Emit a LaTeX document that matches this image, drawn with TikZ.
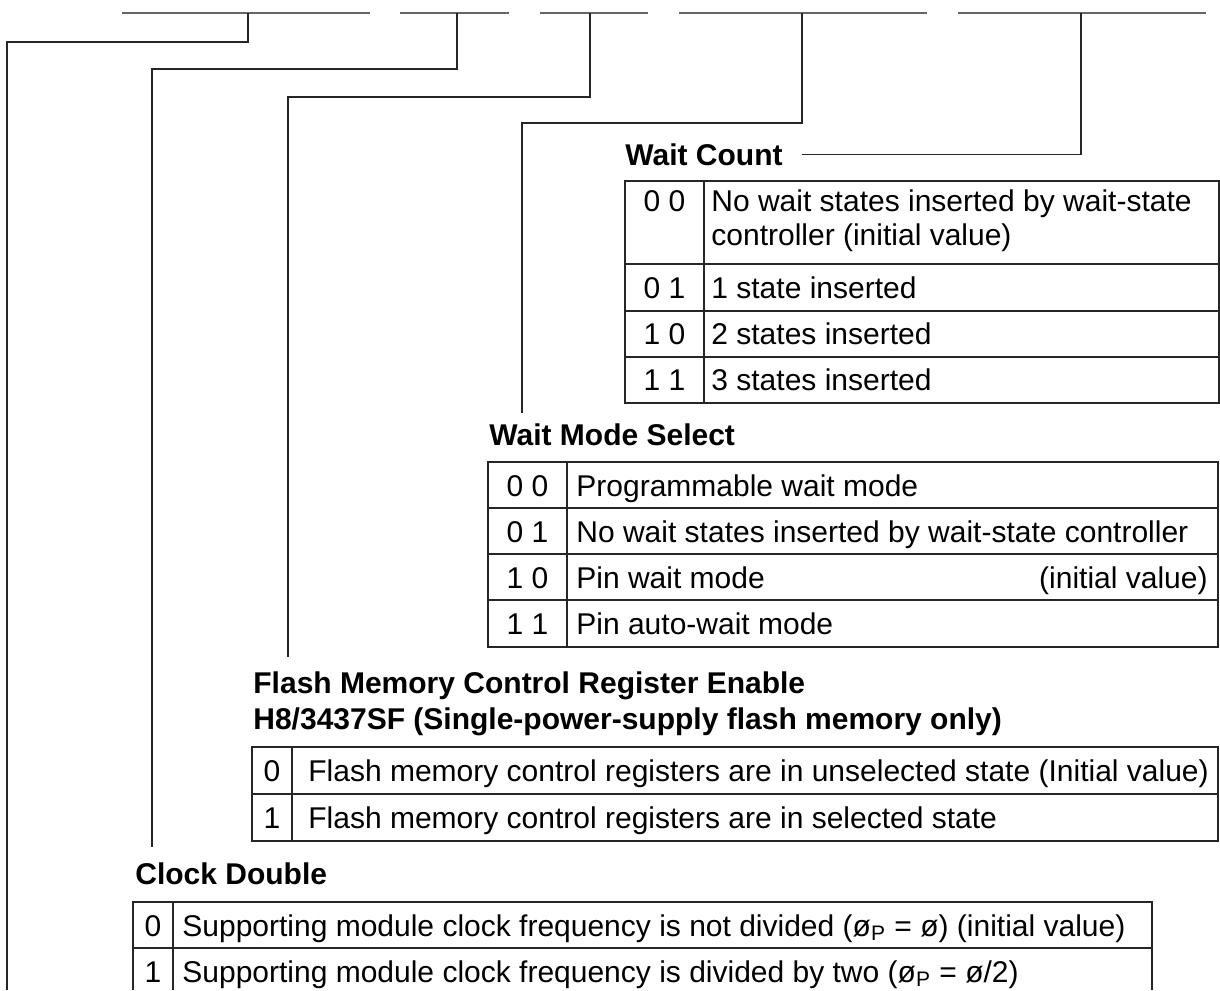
\documentclass[tikz,border=0pt]{standalone}
\usepackage{fontspec}
\setmainfont{Liberation Sans}
\usetikzlibrary{positioning,calc}
\tikzset{
  bitbar/.style={draw=black!60,line width=1pt},
  leader/.style={draw=black!85,line width=0.75pt},
  frame/.style={draw=black!85,line width=0.75pt},
  fldtitle/.style={font=\bfseries\fontsize{15}{17}\selectfont,anchor=base west,inner sep=0pt},
  celltxt/.style={font=\fontsize{15}{17}\selectfont,anchor=base west,inner sep=0pt},
  bitval/.style={font=\fontsize{15}{17}\selectfont,anchor=base,inner sep=0pt},
}

\begin{document}
\begin{tikzpicture}[x=0.5pt,y=-0.5pt]
  \useasboundingbox (0,0) rectangle (1220,990);
  % bit field bars along the top
  \foreach \a/\b/\t/\n in {122/370/248/a,400/509/457/b,540/648/590/c,679/927/802/d,958/1206/1081/e}{
    \draw[bitbar] (\a,13) -- (\b,13);
    \coordinate (tick\n) at (\t,13);
  }

  % Wait Count
  \node[fldtitle] (wcount) at (625,165) {Wait Count};
  \draw[frame] (625,181) rectangle (1219,403);
  \draw[frame] (704,181) -- (704,403);
  \foreach \y in {264,311,357} \draw[frame] (625,\y) -- (1219,\y);
  \node[bitval] (wc0) at (664.5,211.5) {0 0};
  \node[celltxt] (wc0a) at (711,211.5) {No wait states inserted by wait-state};
  \node[celltxt] (wc0b) at (711,245.5) {controller (initial value)};
  \foreach \v/\txt/\y in {1/{0 1}/298,2/{1 0}/344.5,3/{1 1}/390.5}
    \node[bitval] (wc\v) at (664.5,\y) {\txt};
  \node[celltxt] (wc1t) at (711,298) {1 state inserted};
  \node[celltxt] (wc2t) at (711,344.5) {2 states inserted};
  \node[celltxt] (wc3t) at (711,390.5) {3 states inserted};

  % Wait Mode Select
  \node[fldtitle] (wmode) at (489,445) {Wait Mode Select};
  \draw[frame] (488,462) rectangle (1218,647);
  \draw[frame] (567,462) -- (567,647);
  \foreach \y in {508,554,600} \draw[frame] (488,\y) -- (1218,\y);
  \foreach \v/\txt/\y in {0/{0 0}/496,1/{0 1}/542,2/{1 0}/588,3/{1 1}/634.5}
    \node[bitval] (wm\v) at (527.5,\y) {\txt};
  \node[celltxt] (wm0t) at (576,496) {Programmable wait mode};
  \node[celltxt] (wm1t) at (576,542) {No wait states inserted by wait-state controller};
  \node[celltxt] (wm2t) at (576,588) {Pin wait mode};
  \node[celltxt,anchor=base east] (wm2r) at (1208,588) {(initial value)};
  \node[celltxt] (wm3t) at (576,634.5) {Pin auto-wait mode};

  % Flash memory control register enable
  \node[fldtitle] (flash) at (253,693) {Flash Memory Control Register Enable};
  \node[fldtitle] (flashb) at (253,729) {H8/3437SF (Single-power-supply flash memory only)};
  \draw[frame] (252,747) rectangle (1218,841);
  \draw[frame] (292,747) -- (292,841);
  \draw[frame] (252,794) -- (1218,794);
  \node[bitval] (fm0) at (272,781.5) {0};
  \node[bitval] (fm1) at (272,828.5) {1};
  \node[celltxt] (fm0t) at (308,781.5) {Flash memory control registers are in unselected state (Initial value)};
  \node[celltxt] (fm1t) at (308,828.5) {Flash memory control registers are in selected state};

  % Clock Double
  \node[fldtitle] (clock) at (135,884) {Clock Double};
  \draw[frame] (133,990) -- (133,902) -- (1152,902) -- (1152,990);
  \draw[frame] (173,902) -- (173,990);
  \draw[frame] (133,948) -- (1152,948);
  \node[bitval] (cd0) at (153,936) {0};
  \node[bitval] (cd1) at (153,982) {1};
  \node[celltxt] (cd0t) at (182,936) {Supporting module clock frequency is not divided (ø\textsubscript{P} = ø) (initial value)};
  \node[celltxt] (cd1t) at (182,982) {Supporting module clock frequency is divided by two (ø\textsubscript{P} = ø/2)};

  % leaders from the bit fields
  \coordinate (enda) at (7,990);
  \coordinate (endb) at (152,847);
  \coordinate (endc) at (288,657);
  \coordinate (endd) at (522,413);
  \coordinate (ende) at ($(wcount.east)+(19,0)$);
  \foreach \n/\d/\x in {a/42/7,b/69/152,c/97/288,d/123/522}
    \draw[leader] (tick\n) |- (\x,\d) -- (end\n);
  \draw[leader] (ticke) |- (ende);
\end{tikzpicture}
\end{document}
